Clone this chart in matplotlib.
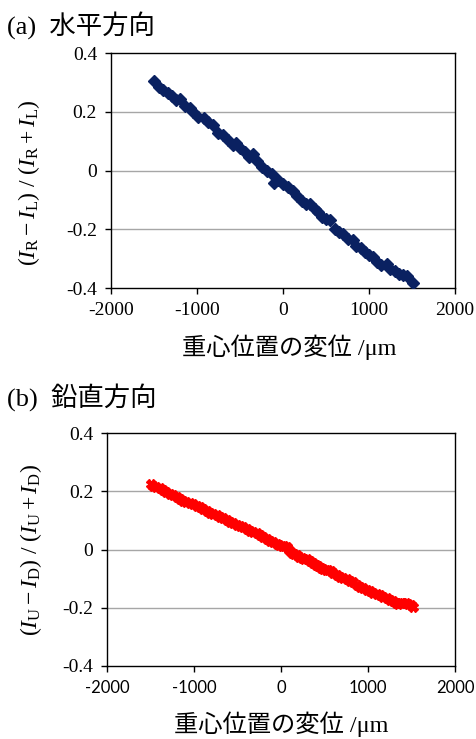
import matplotlib
matplotlib.use("Agg")
import matplotlib.pyplot as plt

plt.rcParams['font.family'] = ['Liberation Serif', 'Noto Sans CJK JP']
plt.rcParams['mathtext.fontset'] = 'custom'
plt.rcParams['mathtext.rm'] = 'Liberation Serif'
plt.rcParams['mathtext.it'] = 'Liberation Serif:italic'

# --- データ (a) 水平方向 ---
h_x = [-1500, -1438, -1391, -1333, -1295, -1244, -1198, -1140, -1081, -1043,
       -984, -919, -868, -810, -752, -702, -643, -578, -547, -500,
       -442, -391, -345, -298, -240, -190, -132, -105, -54, 4,
       62, 120, 167, 217, 267, 314, 372, 411, 450, 500,
       547, 605, 655, 702, 760, 810, 849, 903, 953, 1004,
       1050, 1089, 1136, 1205, 1244, 1302, 1353, 1399, 1446, 1508]
h_y = [0.304, 0.285, 0.275, 0.264, 0.255, 0.241, 0.244, 0.221, 0.212, 0.201,
       0.182, 0.178, 0.167, 0.156, 0.130, 0.122, 0.105, 0.088, 0.096, 0.076,
       0.065, 0.048, 0.057, 0.034, 0.014, 0.000, -0.011, -0.041, -0.030, -0.046,
       -0.057, -0.068, -0.086, -0.102, -0.112, -0.114, -0.129, -0.140, -0.159, -0.166,
       -0.168, -0.200, -0.208, -0.216, -0.231, -0.237, -0.257, -0.262, -0.277, -0.288,
       -0.294, -0.311, -0.322, -0.316, -0.333, -0.341, -0.350, -0.356, -0.360, -0.382]

# --- データ (b) 鉛直方向 ---
v_x = [-1501, -1467, -1433, -1395, -1356, -1318, -1279, -1240, -1202, -1164,
       -1126, -1088, -1049, -1010, -972, -934, -895, -857, -818, -780,
       -742, -704, -665, -627, -589, -550, -512, -474, -435, -397,
       -359, -320, -282, -244, -205, -167, -129, -90, -52, -23,
       6, 35, 63, 92, 121, 150, 178, 207, 236, 265,
       293, 330, 370, 400, 428, 456, 485, 514, 543, 572,
       600, 638, 677, 715, 754, 792, 830, 868, 907, 945,
       984, 1022, 1060, 1098, 1137, 1175, 1214, 1252, 1291, 1320,
       1348, 1377, 1406, 1435, 1463, 1492, 1520]
v_y = [0.225, 0.220, 0.214, 0.210, 0.205, 0.198, 0.191, 0.186, 0.180, 0.174,
       0.168, 0.164, 0.159, 0.155, 0.150, 0.145, 0.139, 0.133, 0.127, 0.123,
       0.119, 0.113, 0.107, 0.101, 0.096, 0.091, 0.085, 0.081, 0.077, 0.071,
       0.065, 0.061, 0.056, 0.049, 0.042, 0.037, 0.031, 0.025, 0.019, 0.016,
       0.013, 0.012, 0.010, -0.002, -0.013, -0.015, -0.018, -0.025, -0.030, -0.031,
       -0.032, -0.038, -0.045, -0.052, -0.058, -0.063, -0.068, -0.069, -0.070, -0.075,
       -0.079, -0.086, -0.093, -0.097, -0.102, -0.107, -0.113, -0.120, -0.127, -0.133,
       -0.139, -0.144, -0.148, -0.152, -0.157, -0.162, -0.167, -0.172, -0.177, -0.182,
       -0.188, -0.185, -0.182, -0.184, -0.187, -0.191, -0.196]

x_ticks = [-2000, -1000, 0, 1000, 2000]
y_ticks = [-0.4, -0.2, 0, 0.2, 0.4]
y_ticklabels = ['-0.4', '-0.2', '0', '0.2', '0.4']
xlabel = '重心位置の変位 /μm'

fig = plt.figure(figsize=(4.76, 7.39), dpi=100)


def setup_axes(ax, xtick_font, xtick_size):
    ax.set_xlim(-2000, 2000)
    ax.set_ylim(-0.4, 0.4)
    ax.set_xticks(x_ticks)
    ax.set_xticklabels([str(t) for t in x_ticks], fontsize=xtick_size, family=xtick_font)
    ax.set_yticks(y_ticks)
    ax.set_yticklabels(y_ticklabels, fontsize=14)
    for y in [-0.2, 0, 0.2]:
        ax.axhline(y, color='#a6a6a6', lw=1.0, zorder=1)
    for s in ax.spines.values():
        s.set_linewidth(1.0)
        s.set_color('black')
    ax.tick_params(direction='out', length=4, width=1, pad=6)


# --- (a) ---
ax1 = fig.add_axes([0.233, 0.610, 0.723, 0.318])
setup_axes(ax1, 'Liberation Serif', 14)
ax1.plot(h_x, h_y, linestyle='none', marker='D', markersize=6,
         color='#0a2161', zorder=3)
ax1.set_ylabel(r'$(I_{\mathrm{R}} - I_{\mathrm{L}})\ /\ (I_{\mathrm{R}} + I_{\mathrm{L}})$',
               fontsize=17)
ax1.yaxis.set_label_coords(-0.2, 0.45)
fig.text(289 / 476, 1 - 347 / 739, xlabel, ha='center', va='center', fontsize=17.5)
fig.text(0.015, 1 - 25 / 739, '(a)  水平方向', ha='left', va='center', fontsize=19)

# --- (b) ---
ax2 = fig.add_axes([0.225, 0.0988, 0.731, 0.315])
setup_axes(ax2, 'Lato', 12)
ax2.plot(v_x, v_y, linestyle='none', marker='X', markersize=6.5,
         color='#ff0000', zorder=3)
ax2.set_ylabel(r'$(I_{\mathrm{U}} - I_{\mathrm{D}})\ /\ (I_{\mathrm{U}} + I_{\mathrm{D}})$',
               fontsize=17)
ax2.yaxis.set_label_coords(-0.18, 0.5)
fig.text(281 / 476, 1 - 724 / 739, xlabel, ha='center', va='center', fontsize=17.5)
fig.text(0.015, 1 - 397 / 739, '(b)  鉛直方向', ha='left', va='center', fontsize=19)

fig.savefig('out.png', dpi=100)
